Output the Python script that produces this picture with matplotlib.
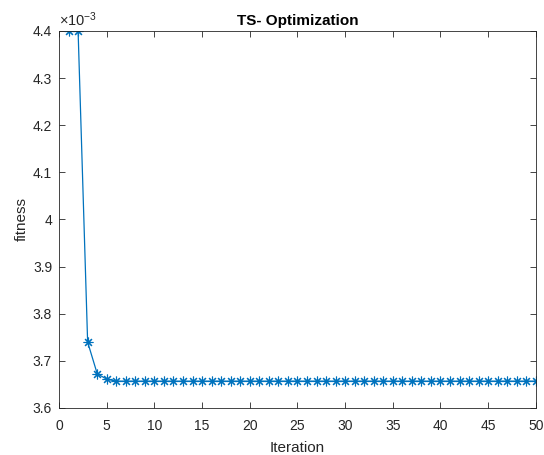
import matplotlib
matplotlib.use("Agg")
import matplotlib.pyplot as plt
import numpy as np

# dados (fitness em unidades de 1e-3)
iteracoes = np.arange(1, 51)
inicio = [4.400, 4.400, 3.740, 3.673, 3.661]
fitness = np.array(inicio + [3.657] * (50 - len(inicio))) * 1e-3

plt.rcParams['font.family'] = ['Liberation Sans', 'DejaVu Sans']
plt.rcParams['mathtext.default'] = 'regular'
cor_eixo = '#262626'

fig = plt.figure(figsize=(5.44, 4.55), dpi=100)
ax = fig.add_axes([0.1085, 0.1033, 0.8765, 0.8286])

# asterisco estilo MATLAB (8 bracos)
ax.plot(iteracoes, fitness, color='#0072BD', linewidth=0.9, marker=(8, 2, 0),
        markersize=7, markeredgewidth=0.8)

ax.set_xlim(0, 50)
ax.set_ylim(3.6e-3, 4.4e-3)
ax.set_xticks(np.arange(0, 51, 5))
yt = np.arange(3.6, 4.41, 0.1)
ax.set_yticks(yt * 1e-3)
ax.set_yticklabels(['%g' % round(v, 1) for v in yt])

ax.tick_params(direction='in', length=4, width=0.6, colors=cor_eixo,
               labelsize=10, top=True, right=True, labeltop=False, labelright=False)
ax.tick_params(axis='x', pad=8)
ax.tick_params(axis='y', pad=5)
for s in ax.spines.values():
    s.set_color(cor_eixo)
    s.set_linewidth(0.6)

ax.set_xlabel('Iteration', color=cor_eixo, fontsize=11, labelpad=6)
ax.set_ylabel('fitness', color=cor_eixo, fontsize=11, labelpad=3)
ax.set_title('TS- Optimization', fontweight='bold', fontsize=11, color='black', pad=4)
ax.text(0, 1.005, r'$\times$10$^{-3}$', transform=ax.transAxes, fontsize=10.5,
        color=cor_eixo, ha='left', va='bottom')

fig.savefig('out.png', dpi=100)
